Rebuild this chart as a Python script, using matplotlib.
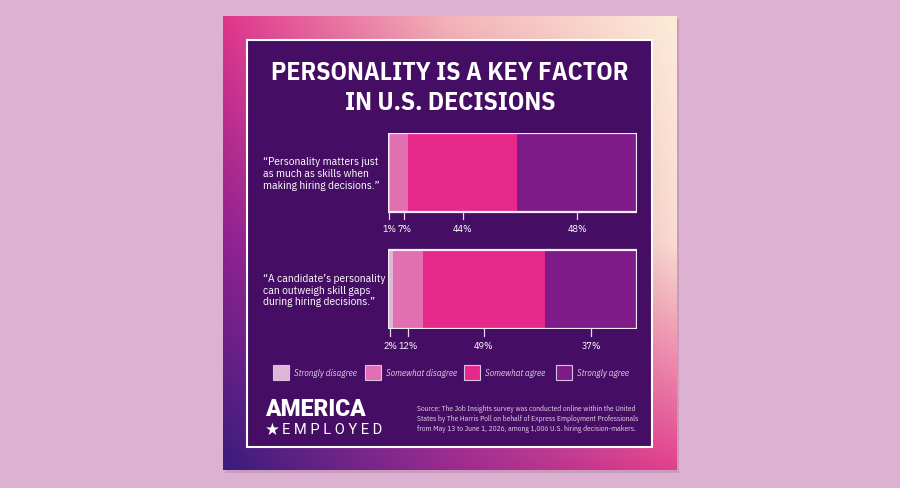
import matplotlib.pyplot as plt
import numpy as np
from matplotlib.patches import Rectangle
from matplotlib.colors import to_rgb

title_lines = ["PERSONALITY IS A KEY FACTOR", "IN U.S. DECISIONS"]
statements = [
    "\u201cPersonality matters just\nas much as skills when\nmaking hiring decisions.\u201d",
    "\u201cA candidate\u2019s personality\ncan outweigh skill gaps\nduring hiring decisions.\u201d",
]
categories = ["Strongly disagree", "Somewhat disagree", "Somewhat agree", "Strongly agree"]
shares_q1 = [1, 7, 44, 48]
shares_q2 = [2, 12, 49, 37]
seg_colors = ["#dfb6d6", "#e070b2", "#e6288a", "#7e1b88"]
source_text = ("Source: The Job Insights survey was conducted online within the United\n"
               "States by The Harris Poll on behalf of Express Employment Professionals\n"
               "from May 13 to June 1, 2026, among 1,006 U.S. hiring decision-makers.")

NARROW = ["IBM Plex Sans Condensed", "Roboto", "DejaVu Sans"]
HEAVY = ["Roboto", "DejaVu Sans"]

fig = plt.figure(figsize=(9, 4.89), dpi=100)
fig.patch.set_facecolor("#ddb1d1")

bg = fig.add_axes([0, 0, 1, 1])
bg.set_xlim(0, 900)
bg.set_ylim(489, 0)
bg.axis("off")

# card background gradient (3x3 anchor colours)
anchors = np.array([
    [to_rgb("#e0358b"), to_rgb("#f4b4b8"), to_rgb("#fdebd8")],
    [to_rgb("#8e2190"), to_rgb("#c45aa0"), to_rgb("#f9dccf")],
    [to_rgb("#3a1c7c"), to_rgb("#9a2a90"), to_rgb("#e3408c")],
])
ny, nx = 120, 120
yy, xx = np.mgrid[0:1:ny * 1j, 0:1:nx * 1j]
gx, gy = xx * 2, yy * 2
ix = np.clip(gx.astype(int), 0, 1)
iy = np.clip(gy.astype(int), 0, 1)
fx = (gx - ix)[..., None]
fy = (gy - iy)[..., None]
c00 = anchors[iy, ix]
c01 = anchors[iy, ix + 1]
c10 = anchors[iy + 1, ix]
c11 = anchors[iy + 1, ix + 1]
img = (c00 * (1 - fx) + c01 * fx) * (1 - fy) + (c10 * (1 - fx) + c11 * fx) * fy
bg.add_patch(Rectangle((225, 20), 454, 454, facecolor="#c99bbd", edgecolor="none", zorder=0))
bg.imshow(img, extent=(223, 677, 471, 17), aspect="auto", interpolation="bilinear", zorder=1)

# inner panel
bg.add_patch(Rectangle((247, 41), 405, 407, facecolor="#450e64", edgecolor="white",
                       linewidth=1.5, zorder=2))

# title
for k, line in enumerate(title_lines):
    bg.text(450, 73 + k * 30, line, ha="center", va="center", color="white",
            fontsize=18.5, fontweight="bold", family=NARROW, zorder=3)

# statements
for k, s in enumerate(statements):
    bg.text(263, 174 + k * 116.5, s, ha="left", va="center", color="white",
            fontsize=8.2, family=NARROW, linespacing=1.2, zorder=3)

# bars
ax = fig.add_axes([388 / 900, 1 - 330 / 489, 249 / 900, 196 / 489])
ax.set_xlim(0, 100)
ax.set_ylim(1.34, -0.34)
ax.axis("off")
h = 0.68
for i, shares in enumerate([shares_q1, shares_q2]):
    left = 0
    mids = []
    for share, col in zip(shares, seg_colors):
        ax.barh(i, share, left=left, height=h, color=col, edgecolor="none")
        mids.append(left + share / 2)
        left += share
    # keep small-segment labels apart
    for j in range(1, len(mids)):
        mids[j] = max(mids[j], mids[j - 1] + 6)
    for share, mid in zip(shares, mids):
        ax.plot([mid, mid], [i + h / 2, i + h / 2 + 0.06], color="#e6d8ee", lw=0.9,
                clip_on=False)
        ax.text(mid, i + h / 2 + 0.14, f"{share}%", ha="center", va="center",
                color="white", fontsize=7.3, family=NARROW, clip_on=False)
    ax.barh(i, sum(shares), height=h, fill=False, edgecolor="#f4ecf6", linewidth=1.6)

# legend
leg_x = [273, 365, 464, 556]
for x, lab, col in zip(leg_x, categories, seg_colors):
    bg.add_patch(Rectangle((x, 366), 16, 15, facecolor=col, edgecolor="#d8c2e2",
                           linewidth=0.8, zorder=3))
    bg.text(x + 21, 374, lab, ha="left", va="center", color="#e2d3ea", fontsize=6.5,
            style="italic", family=NARROW, zorder=3)

# logo
bg.text(265, 416, "AMERICA", ha="left", va="baseline", color="white", fontsize=16.5,
        fontweight="heavy", family=HEAVY, zorder=3)
bg.text(265, 435, "\u2605", ha="left", va="baseline", color="white", fontsize=12,
        family="DejaVu Sans", zorder=3)
bg.text(282, 434, "E M P L O Y E D", ha="left", va="baseline", color="white",
        fontsize=10.5, family=HEAVY, zorder=3)

# source
bg.text(417, 419, source_text, ha="left", va="center", color="#e2d3ea", fontsize=5.4,
        family=NARROW, linespacing=1.35, zorder=3)

fig.savefig("out.png", dpi=100)
